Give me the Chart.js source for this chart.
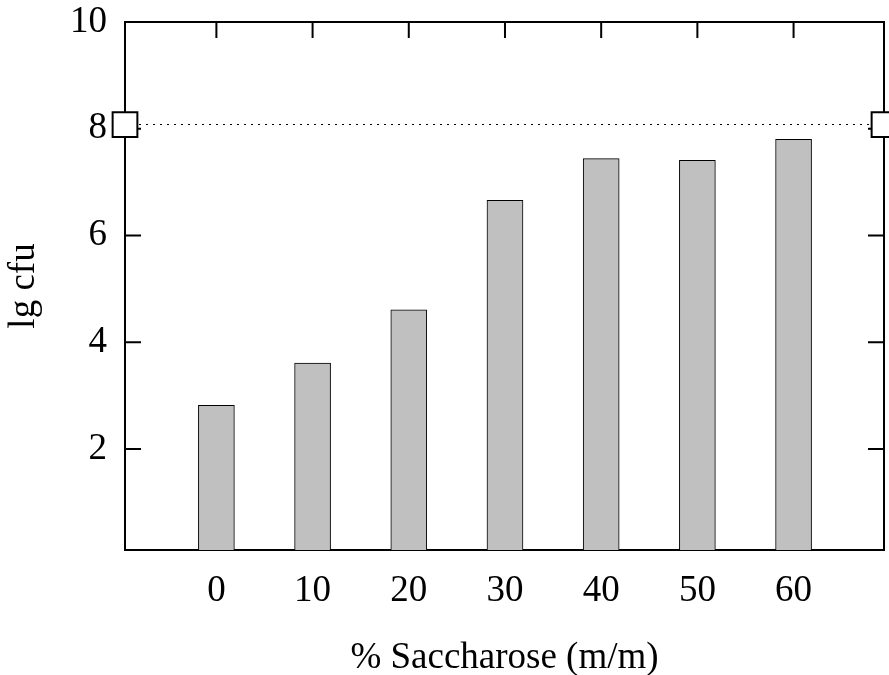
<!DOCTYPE html>
<html>
<head>
<meta charset="utf-8">
<script src="https://cdn.jsdelivr.net/npm/chart.js@4"></script>
<style>
    body { margin: 0; background: #fff; }
    #wrap { width: 889px; height: 675px; }
</style>
</head>
<body>
<div id="wrap"><canvas id="chart"></canvas></div>
<script>
// data
const saccharose = [0, 10, 20, 30, 40, 50, 60];
const lgCfu = [2.82, 3.61, 4.61, 6.66, 7.44, 7.41, 7.80];
const refLevel = 8.08;
const yTicks = [2, 4, 6, 8, 10];

const xMin = -9.5, xMax = 69.4;
const yMin = 0.11, yMax = 10;

const serif = "'Liberation Serif', 'Times New Roman', serif";

// no extra room for edge labels, the frame is fixed
function sansMarge(s) {
    s.paddingTop = 0; s.paddingBottom = 0;
    s.paddingLeft = 0; s.paddingRight = 0;
}

// frame + inward ticks drawn from the scales
const cadre = {
    id: 'cadre',
    beforeDatasetsDraw(chart) {
        const ctx = chart.ctx;
        const a = chart.chartArea;
        const x = chart.scales.x, y = chart.scales.y;
        const len = 16;
        ctx.save();
        ctx.strokeStyle = '#000';
        ctx.lineWidth = 2;
        ctx.beginPath();
        yTicks.forEach(v => {
            const py = y.getPixelForValue(v);
            ctx.moveTo(a.left, py); ctx.lineTo(a.left + len, py);
            ctx.moveTo(a.right, py); ctx.lineTo(a.right - len, py);
        });
        saccharose.forEach(v => {
            const px = x.getPixelForValue(v);
            ctx.moveTo(px, a.top); ctx.lineTo(px, a.top + len);
            ctx.moveTo(px, a.bottom); ctx.lineTo(px, a.bottom - len);
        });
        ctx.stroke();
        ctx.strokeRect(a.left, a.top, a.right - a.left, a.bottom - a.top);
        ctx.restore();
    }
};

const ctx = document.getElementById('chart');
const myChart = new Chart(ctx, {
    type: 'bar',
    data: {
        datasets: [{
            type: 'line',
            data: [{ x: xMin, y: refLevel }, { x: xMax, y: refLevel }],
            borderColor: '#000',
            borderWidth: 1,
            borderDash: [2, 5],
            pointStyle: 'rect',
            pointRadius: 17.5,
            pointBorderWidth: 2,
            pointBackgroundColor: '#fff',
            pointBorderColor: '#000',
            clip: false,
            order: 0
        }, {
            data: saccharose.map((s, i) => ({ x: s, y: lgCfu[i] })),
            backgroundColor: '#c0c0c0',
            borderColor: '#000',
            borderWidth: 1,
            borderSkipped: false,
            barThickness: 36,
            order: 1
        }]
    },
    options: {
        responsive: true,
        maintainAspectRatio: false,
        animation: false,
        events: [],
        layout: { autoPadding: false, padding: { top: 22, right: 5, left: 0, bottom: 0 } },
        plugins: {
            legend: { display: false },
            tooltip: { enabled: false }
        },
        scales: {
            x: {
                type: 'linear',
                min: xMin,
                max: xMax,
                offset: false,
                afterBuildTicks: (s) => { s.ticks = saccharose.map(v => ({ value: v })); },
                afterFit: (s) => { s.height = 125; sansMarge(s); },
                grid: { display: false, drawTicks: false, offset: false },
                border: { display: false },
                ticks: {
                    color: '#000',
                    font: { family: serif, size: 37 },
                    padding: 19,
                    maxRotation: 0,
                    autoSkip: false
                },
                title: {
                    display: true,
                    text: '% Saccharose (m/m)',
                    color: '#000',
                    font: { family: serif, size: 37 },
                    padding: { top: 0, bottom: -5 }
                }
            },
            y: {
                min: yMin,
                max: yMax,
                afterBuildTicks: (s) => { s.ticks = yTicks.map(v => ({ value: v })); },
                afterFit: (s) => { s.width = 125; sansMarge(s); },
                grid: { display: false, drawTicks: false },
                border: { display: false },
                ticks: {
                    color: '#000',
                    font: { family: serif, size: 37 },
                    padding: 18
                },
                title: {
                    display: true,
                    text: 'lg cfu',
                    color: '#000',
                    font: { family: serif, size: 37 },
                    padding: { top: 2, bottom: 0 }
                }
            }
        }
    },
    plugins: [cadre]
});
</script>
</body>
</html>
